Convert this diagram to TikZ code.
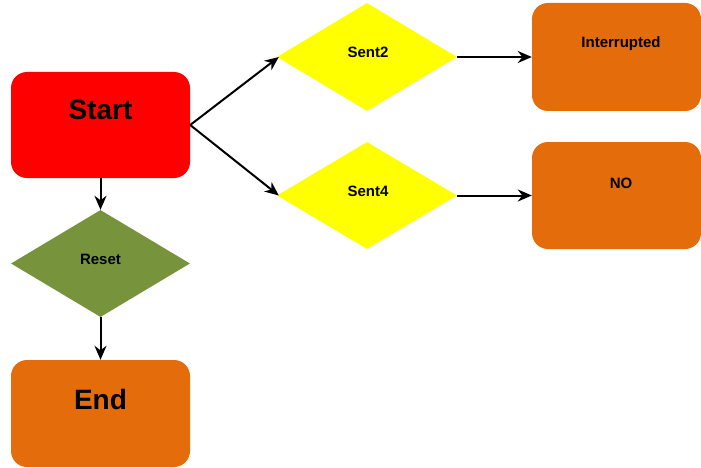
\documentclass[tikz,border=0pt]{standalone}
\usepackage{fontspec}
\setmainfont{Liberation Sans}
\usetikzlibrary{shapes.geometric,arrows.meta}
\definecolor{startred}{HTML}{FF0000}
\definecolor{olive}{HTML}{77933C}
\definecolor{orangebox}{HTML}{E46C0A}
\definecolor{yel}{HTML}{FFFF00}
\tikzset{
  box/.style={rectangle, rounded corners=16pt, draw=none, inner sep=0pt},
  dia/.style={diamond, draw=none, inner sep=0pt, minimum width=180pt, minimum height=108pt},
  bigtxt/.style={anchor=base, inner sep=0pt, font=\fontsize{28}{30}\selectfont\bfseries},
  smalltxt/.style={anchor=base, inner sep=0pt, font=\fontsize{15}{17}\selectfont\bfseries},
  conn/.style={line width=2pt, -{Stealth[length=14pt,width=12pt,inset=4.5pt]}}
}
\begin{document}
\begin{tikzpicture}[x=1pt,y=-1pt]
\useasboundingbox (0,0) rectangle (701,468);
% boxes
\node[box, fill=startred, minimum width=179pt, minimum height=106pt] (start) at (100.5,125) {};
\node[dia, fill=olive, minimum width=179pt, minimum height=107pt] (reset) at (100.5,263.5) {};
\node[box, fill=orangebox, minimum width=179pt, minimum height=107pt] (end) at (100.5,413.5) {};
\node[dia, fill=yel] (sent2) at (367,57) {};
\node[dia, fill=yel, minimum height=107pt] (sent4) at (367,195.5) {};
\node[box, fill=orangebox, minimum width=169pt, minimum height=108pt] (intr) at (616.5,57) {};
\node[box, fill=orangebox, minimum width=169pt, minimum height=107pt] (no) at (616.5,195.5) {};
% texts
\node[bigtxt] (startT) at (100.5,120) {Start};
\node[bigtxt] (endT) at (100.5,409) {End};
\node[smalltxt] (resetT) at (100.5,264) {Reset};
\node[smalltxt] (sent2T) at (368,58) {Sent2};
\node[smalltxt] (sent4T) at (368,196.5) {Sent4};
\node[smalltxt] (intrT) at (621,48) {Interrupted};
\node[smalltxt] (noT) at (621,188) {NO};
% connectors
\draw[conn] (start.east) -- ([xshift=2pt]sent2.west);
\draw[conn] (start.east) -- ([xshift=2pt]sent4.west);
\draw[conn] (sent2.east) -- (intr.west);
\draw[conn] (sent4.east) -- (no.west);
\draw[conn] (start.south) -- (reset.north);
\draw[conn] (reset.south) -- (end.north);
\end{tikzpicture}
\end{document}
